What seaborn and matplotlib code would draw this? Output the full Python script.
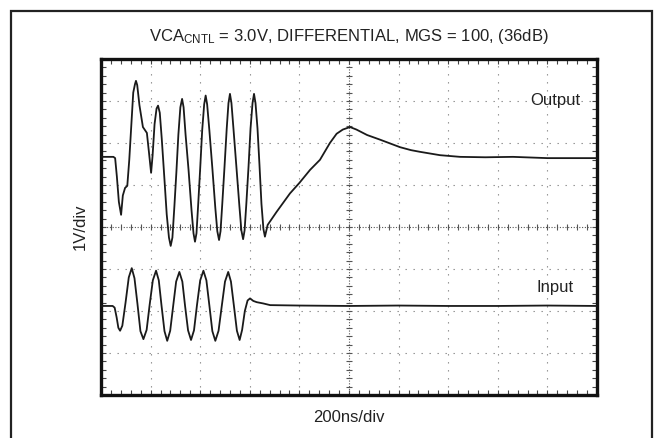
import numpy as np
import pandas as pd
import matplotlib
matplotlib.use("Agg")
import matplotlib.pyplot as plt
import seaborn as sns
from matplotlib.patches import Rectangle

# time in ns (200ns/div), amplitude in V (1V/div)
output_t = [0, 50, 57, 64, 72, 81, 88, 97, 106, 114, 122, 130, 137, 141, 146, 155, 169, 185,
            193, 202, 208, 216, 224, 230, 237, 245, 255, 265, 274, 281, 288, 296, 304, 312,
            320, 327, 333, 341, 353, 365, 373, 379, 385, 392, 400, 408, 416, 422, 428, 437,
            449, 461, 469, 476, 482, 489, 498, 507, 514, 520, 526, 534, 546, 558, 566, 573,
            579, 586, 595, 603, 611, 617, 623, 631, 639, 647, 655, 661, 672, 708, 762, 800,
            843, 883, 923, 950, 975, 1004, 1030, 1073, 1125, 1170, 1206, 1250, 1286, 1367,
            1448, 1550, 1661, 1800, 1931, 2000]
output_v = [1.67, 1.67, 1.64, 1.20, 0.60, 0.29, 0.75, 0.93, 0.98, 1.60, 2.40, 3.20, 3.40, 3.48,
            3.38, 2.90, 2.38, 2.24, 1.80, 1.29, 1.70, 2.45, 2.82, 2.89, 2.72, 2.10, 1.21, 0.30,
            -0.25, -0.45, -0.25, 0.50, 1.31, 2.20, 2.85, 3.05, 2.85, 2.20, 1.36, 0.40, -0.15,
            -0.35, -0.15, 0.55, 1.40, 2.30, 2.92, 3.13, 2.92, 2.30, 1.40, 0.45, -0.10, -0.31,
            -0.10, 0.55, 1.43, 2.35, 2.95, 3.17, 2.95, 2.35, 1.43, 0.50, -0.08, -0.29, -0.08,
            0.55, 1.45, 2.35, 2.95, 3.17, 2.95, 2.35, 1.48, 0.55, -0.05, -0.23, 0.05, 0.36,
            0.80, 1.05, 1.36, 1.60, 2.00, 2.22, 2.32, 2.38, 2.32, 2.19, 2.08, 1.98, 1.90, 1.83,
            1.79, 1.71, 1.67, 1.66, 1.67, 1.64, 1.64, 1.64]

input_t = [0, 47, 55, 63, 70, 77, 86, 99, 112, 124, 135, 147, 159, 171, 184, 196, 209, 222,
           233, 244, 256, 267, 279, 291, 303, 316, 328, 339, 351, 363, 375, 387, 400, 413,
           425, 437, 449, 461, 474, 487, 500, 513, 524, 536, 548, 559, 569, 580, 591, 601,
           614, 628, 654, 682, 800, 1000, 1200, 1400, 1600, 1800, 2000]
input_v = [-1.88, -1.88, -1.92, -2.15, -2.40, -2.47, -2.35, -1.80, -1.20, -0.98, -1.22, -1.83,
           -2.48, -2.67, -2.45, -1.86, -1.27, -1.04, -1.27, -1.87, -2.48, -2.71, -2.47, -1.88,
           -1.30, -1.07, -1.30, -1.88, -2.46, -2.69, -2.46, -1.86, -1.27, -1.04, -1.27, -1.87,
           -2.48, -2.71, -2.47, -1.88, -1.30, -1.07, -1.30, -1.88, -2.47, -2.69, -2.45, -2.00,
           -1.75, -1.70, -1.76, -1.79, -1.82, -1.86, -1.87, -1.88, -1.87, -1.88, -1.88, -1.87,
           -1.88]

title = "VCA$_{\\mathregular{CNTL}}$ = 3.0V, DIFFERENTIAL, MGS = 100, (36dB)"
x_label = "200ns/div"
y_label = "1V/div"

sns.set_style("white")
plt.rcParams["font.family"] = ["Liberation Sans", "DejaVu Sans"]
plt.rcParams["mathtext.default"] = "regular"

fig = plt.figure(figsize=(6.56, 4.38), dpi=100)
W, H = 656, 438
ax = fig.add_axes([101 / W, 1 - 395 / H, 496 / W, 336 / H])

# outer frame
fig.patches.append(Rectangle((11 / W, -0.05), 641 / W, 1.05 - 11 / H, transform=fig.transFigure,
                             fill=False, lw=1.6, ec="#222222"))

ax.set_xlim(0, 2000)
ax.set_ylim(-4, 4)

# dotted graticule
for x in np.arange(200, 2000, 200):
    if x != 1000:
        ax.axvline(x, color="#888888", lw=0.8, ls=(0, (1.2, 6)), zorder=1)
for y in np.arange(-3, 4, 1):
    if y != 0:
        ax.axhline(y, color="#888888", lw=0.8, ls=(0, (1.2, 6)), zorder=1)
ax.axhline(0, color="#555555", lw=0.8, ls=(0, (1, 1.5)), zorder=1)
ax.axvline(1000, color="#555555", lw=0.8, ls=(0, (1, 1.5)), zorder=1)

minor_x = np.arange(40, 2000, 40)
minor_y = np.arange(-3.8, 4, 0.2)
ax.plot(minor_x, np.zeros_like(minor_x), ls="none", marker="|", ms=5, mew=0.8, color="#555555", zorder=1)
ax.plot(np.full_like(minor_y, 1000), minor_y, ls="none", marker="_", ms=5, mew=0.8, color="#555555", zorder=1)

ax.set_xticks(np.arange(0, 2001, 200))
ax.set_yticks(np.arange(-4, 5, 1))
ax.set_xticks(minor_x, minor=True)
ax.set_yticks(minor_y, minor=True)
ax.tick_params(which="both", direction="in", length=3.5, width=0.8, color="#444444",
               top=True, right=True, bottom=True, left=True,
               labelbottom=False, labelleft=False)

out_df = pd.DataFrame({"t": output_t, "v": output_v})
in_df = pd.DataFrame({"t": input_t, "v": input_v})
sns.lineplot(data=out_df, x="t", y="v", ax=ax, color="#1a1a1a", lw=1.3, estimator=None, zorder=3)
sns.lineplot(data=in_df, x="t", y="v", ax=ax, color="#1a1a1a", lw=1.3, estimator=None, zorder=3)

ax.text(1830, 3.0, "Output", fontsize=12, ha="center", va="center", color="#222222")
ax.text(1830, -1.45, "Input", fontsize=12, ha="center", va="center", color="#222222")

ax.set_xlabel("")
ax.set_ylabel("")
for s in ax.spines.values():
    s.set_linewidth(2.4)
    s.set_color("#111111")

fig.text(349 / W, 1 - 37 / H, title, fontsize=12, ha="center", va="center", color="#222222")
fig.text(349 / W, 1 - 418 / H, x_label, fontsize=12, ha="center", va="center", color="#222222")
fig.text(80 / W, 1 - 227 / H, y_label, fontsize=12, ha="center", va="center", rotation=90, color="#222222")

fig.savefig("out.png", dpi=100)
